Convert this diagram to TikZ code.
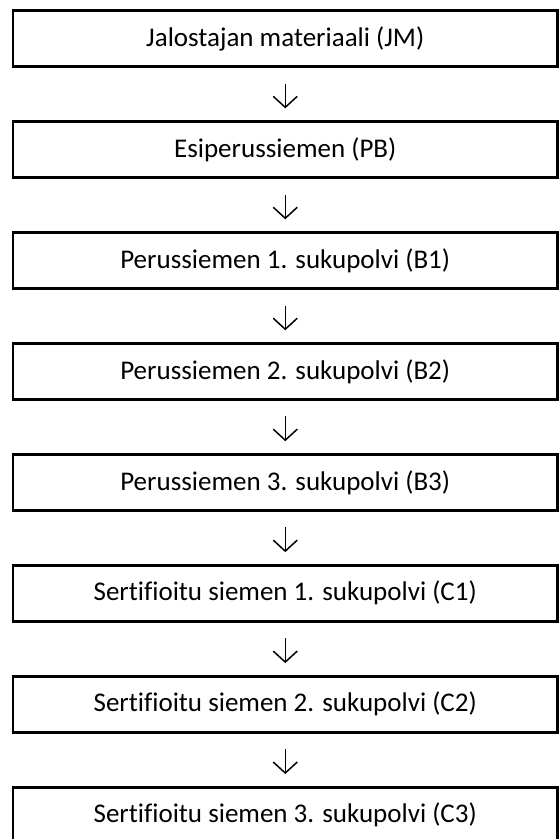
\documentclass[tikz,border=0pt]{standalone}
\usepackage{fontspec}
\setmainfont{Carlito}[Ligatures=CommonOff]
\usepackage{tikz}
\usetikzlibrary{positioning, arrows.meta}

\begin{document}
\begin{tikzpicture}[
    x=1pt, y=1pt,
    stage/.style={rectangle, draw, line width=2.8pt, minimum width=544.5pt, minimum height=56pt, inner sep=0pt, font=\fontsize{27}{32}\selectfont},
    arrow/.style={-{Straight Barb[length=11pt, width=24pt]}, line width=1.5pt, shorten <=15.7pt, shorten >=11.7pt}
]
\useasboundingbox (0,0) rectangle (560,-839);

\node[stage] (jm) at (285.25,-38.5) {Jalostajan materiaali (JM)};
\node[stage, below=52.15pt of jm] (pb) {Esiperussiemen (PB)};
\node[stage, below=52.15pt of pb] (b1) {Perussiemen 1. sukupolvi (B1)};
\node[stage, below=52.15pt of b1] (b2) {Perussiemen 2. sukupolvi (B2)};
\node[stage, below=52.15pt of b2] (b3) {Perussiemen 3. sukupolvi (B3)};
\node[stage, below=52.15pt of b3] (c1) {Sertifioitu siemen 1. sukupolvi (C1)};
\node[stage, below=52.15pt of c1] (c2) {Sertifioitu siemen 2. sukupolvi (C2)};
\node[stage, below=52.15pt of c2] (c3) {Sertifioitu siemen 3. sukupolvi (C3)};

\draw[arrow] (jm) -- (pb);
\draw[arrow] (pb) -- (b1);
\draw[arrow] (b1) -- (b2);
\draw[arrow] (b2) -- (b3);
\draw[arrow] (b3) -- (c1);
\draw[arrow] (c1) -- (c2);
\draw[arrow] (c2) -- (c3);
\end{tikzpicture}
\end{document}
